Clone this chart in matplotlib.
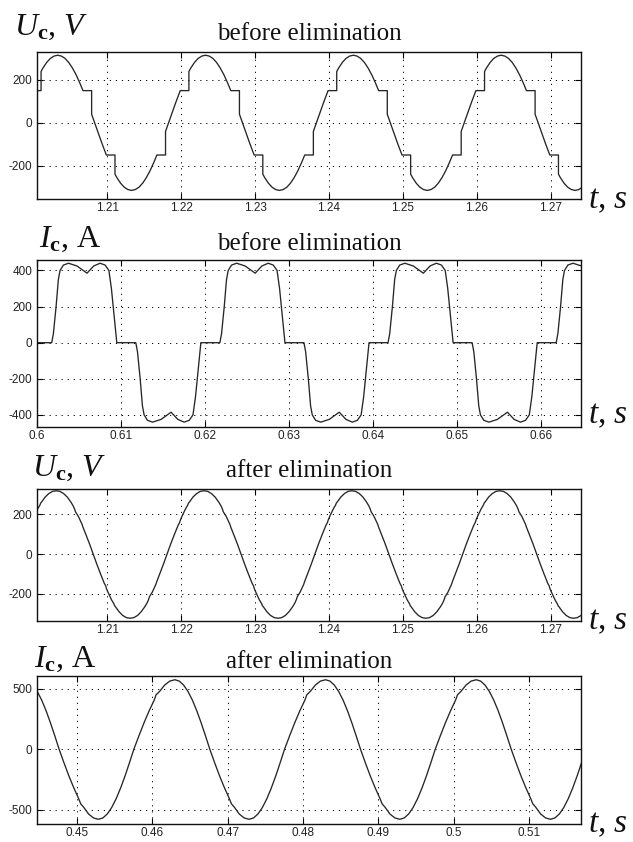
import numpy as np
import matplotlib
matplotlib.use("Agg")
import matplotlib.pyplot as plt

plt.rcParams['mathtext.fontset'] = 'custom'
plt.rcParams['mathtext.rm'] = 'Liberation Serif'
plt.rcParams['mathtext.it'] = 'Liberation Serif:italic'
plt.rcParams['mathtext.bf'] = 'Liberation Serif:bold'
plt.rcParams['axes.unicode_minus'] = False

# ---------------- data (one period, repeated per cycle) -------------
# Panel 1: U_c before elimination  (time in ms inside one period, value in V)
u1_tau_ms = [0, 0.5, 1.0, 1.58, 2.75, 2.75, 3.0, 3.5, 4.0, 4.5, 5.0, 5.5, 6.0, 6.5, 7.0, 7.5,
             8.0, 8.42, 9.59, 9.59, 10.0, 10.5, 11.0, 11.58, 12.75, 12.75, 13.0, 13.5, 14.0,
             14.5, 15.0, 15.5, 16.0, 16.5, 17.0, 17.5, 18.0, 18.42, 19.59, 19.59]
u1_val = [0, 49, 97, 150, 150, 239, 255, 281, 300, 311, 315, 311, 300, 281, 255, 223,
          185, 150, 150, 40, 0, -49, -97, -150, -150, -239, -255, -281, -300,
          -311, -315, -311, -300, -281, -255, -223, -185, -150, -150, -40]
u1_cycle_start = [1.1983, 1.2183, 1.2383, 1.2583]

# Panel 2: I_c before elimination
i1_tau_ms = [0, 0.2, 0.52, 0.79, 0.99, 1.39, 2.0, 3.0, 4.2, 5.0, 5.75, 6.35, 6.8, 7.1, 7.42, 7.74,
             10.0, 10.2, 10.52, 10.79, 10.99, 11.39, 12.0, 13.0, 14.2, 15.0, 15.75, 16.35, 16.8,
             17.1, 17.42, 17.74]
i1_val = [0, 50, 200, 350, 400, 430, 440, 425, 385, 425, 440, 430, 400, 300, 150, 0,
          0, -50, -200, -350, -400, -430, -440, -425, -385, -425, -440, -430, -400,
          -300, -150, 0]
i1_cycle_start = [0.58175, 0.60175, 0.62175, 0.64175, 0.66175]

# Panel 3: U_c after elimination
u2_tau_ms = [0, 0.5, 1.0, 1.5, 1.7, 1.8, 2.0, 2.5, 2.8, 2.9, 3.0, 3.5, 4.0, 4.5, 5.0, 5.5, 6.0,
             6.5, 7.0, 7.3, 7.5, 7.6, 8.0, 8.3, 8.5, 8.6, 9.0, 9.5,
             10.0, 10.5, 11.0, 11.5, 11.7, 11.8, 12.0, 12.5, 12.8, 12.9, 13.0, 13.5, 14.0, 14.5,
             15.0, 15.5, 16.0, 16.5, 17.0, 17.3, 17.5, 17.6, 18.0, 18.3, 18.5, 18.6, 19.0, 19.5]
u2_val = [0, 52, 100, 146, 160, 172, 190, 229, 248, 258, 262, 288, 306, 317, 320, 317, 306,
          288, 262, 243, 226, 214, 190, 166, 150, 138, 100, 52,
          0, -52, -101, -148, -162, -175, -193, -233, -252, -262, -266, -292, -311, -322,
          -325, -322, -311, -292, -266, -247, -230, -217, -193, -169, -152, -140, -101, -52]
u2_cycle_start = [1.1981, 1.2181, 1.2381, 1.2581]

# Panel 4: I_c after elimination (time measured from a positive peak)
i2_tau_ms = [0.0, 0.58, 1.16, 1.74, 2.32, 2.9, 3.48, 4.06, 4.64, 5.29, 5.94, 6.59, 7.24, 7.5,
             7.89, 8.55, 9.2, 9.85, 10.44, 11.03, 11.61, 12.2, 12.79, 13.38, 13.96, 14.55,
             15.23, 15.91, 16.59, 17.28, 17.5, 17.96, 18.64, 19.32]
i2_val = [575, 564, 531, 478, 407, 320, 220, 112, 0, -113, -221, -319, -409, -450,
          -478, -535, -567, -578, -567, -534, -481, -409, -321, -221, -113, 0,
          112, 220, 319, 410, 450, 478, 531, 564]
i2_cycle_start = [0.443, 0.463, 0.483, 0.503]

# axis ticks / labels
p1_xticks = [1.21, 1.22, 1.23, 1.24, 1.25, 1.26, 1.27]
p1_xticklabels = ["1.21", "1.22", "1.23", "1.24", "1.25", "1.26", "1.27"]
p1_yticks = [-200, 0, 200]
p2_xticks = [0.60, 0.61, 0.62, 0.63, 0.64, 0.65, 0.66]
p2_xticklabels = ["0.6", "0.61", "0.62", "0.63", "0.64", "0.65", "0.66"]
p2_yticks = [-400, -200, 0, 200, 400]
p3_xticks = p1_xticks
p3_xticklabels = p1_xticklabels
p3_yticks = [-200, 0, 200]
p4_xticks = [0.45, 0.46, 0.47, 0.48, 0.49, 0.50, 0.51]
p4_xticklabels = ["0.45", "0.46", "0.47", "0.48", "0.49", "0.5", "0.51"]
p4_yticks = [-500, 0, 500]

titles = ["before elimination", "before elimination", "after elimination", "after elimination"]
ylabels = [r"$U_\mathbf{c}$, $V$", r"$I_\mathbf{c}$, A", r"$U_\mathbf{c}$, $V$", r"$I_\mathbf{c}$, A"]


def build(tau_ms, vals, starts):
    tau = np.asarray(tau_ms) / 1000.0
    t = np.concatenate([s + tau for s in starts])
    v = np.concatenate([np.asarray(vals, float) for _ in starts])
    return t, v


W, H = 633, 842
fig = plt.figure(figsize=(W / 100, H / 100), dpi=100)


def axes_px(x0, y0, x1, y1):
    return fig.add_axes([x0 / W, 1 - y1 / H, (x1 - x0) / W, (y1 - y0) / H])


def fxy(x, y):
    return x / W, 1 - y / H


panels = [
    dict(box=(37, 52, 581, 199), data=build(u1_tau_ms, u1_val, u1_cycle_start),
         xlim=(1.2005, 1.2741), ylim=(-355, 330), xt=p1_xticks, xtl=p1_xticklabels, yt=p1_yticks,
         title_y=40.5, lab_x=14, lab_y=35, ts_y=208),
    dict(box=(37, 260, 581, 427), data=build(i1_tau_ms, i1_val, i1_cycle_start),
         xlim=(0.6, 0.6647), ylim=(-467, 458), xt=p2_xticks, xtl=p2_xticklabels, yt=p2_yticks,
         title_y=250, lab_x=39, lab_y=247, ts_y=423),
    dict(box=(37, 489, 581, 621), data=build(u2_tau_ms, u2_val, u2_cycle_start),
         xlim=(1.2005, 1.2741), ylim=(-339, 329), xt=p3_xticks, xtl=p3_xticklabels, yt=p3_yticks,
         title_y=476.5, lab_x=32, lab_y=476, ts_y=629),
    dict(box=(37, 676, 581, 824), data=build(i2_tau_ms, i2_val, i2_cycle_start),
         xlim=(0.4447, 0.5169), ylim=(-617, 606), xt=p4_xticks, xtl=p4_xticklabels, yt=p4_yticks,
         title_y=668, lab_x=34, lab_y=667, ts_y=832),
]

serif = "Liberation Serif"
for k, p in enumerate(panels):
    x0, y0, x1, y1 = p["box"]
    ax = axes_px(*p["box"])
    t, v = p["data"]
    ax.plot(t, v, color="#262626", lw=0.95, solid_joinstyle="round")
    ax.set_xlim(*p["xlim"])
    ax.set_ylim(*p["ylim"])
    ax.set_xticks(p["xt"])
    ax.set_xticklabels(p["xtl"])
    ax.set_yticks(p["yt"])
    ax.set_yticklabels([str(y) for y in p["yt"]])
    ax.tick_params(direction="in", length=4, width=0.8, top=True, right=True,
                   labelsize=8.5, colors="black")
    ax.tick_params(axis="x", pad=2.5)
    ax.tick_params(axis="y", pad=3.5)
    for lab in ax.get_xticklabels() + ax.get_yticklabels():
        lab.set_fontfamily("Liberation Sans")
        lab.set_color("#222222")
    ax.grid(True, color="black", linestyle=(0, (1.2, 5.0)), linewidth=0.7)
    for s in ax.spines.values():
        s.set_linewidth(1.0)
        s.set_color("#111111")

    cx = (x0 + x1) / 2
    fig.text(*fxy(cx, p["title_y"]), titles[k], ha="center", va="baseline",
             fontfamily=serif, fontsize=18, color="#111111")
    fig.text(*fxy(p["lab_x"], p["lab_y"]), ylabels[k], ha="left", va="baseline",
             fontfamily=serif, fontsize=23, color="#111111")
    fig.text(*fxy(588, p["ts_y"]), r"$t$, $s$", ha="left", va="baseline",
             fontfamily=serif, fontsize=24, color="#111111")

fig.savefig("out.png", dpi=100)
